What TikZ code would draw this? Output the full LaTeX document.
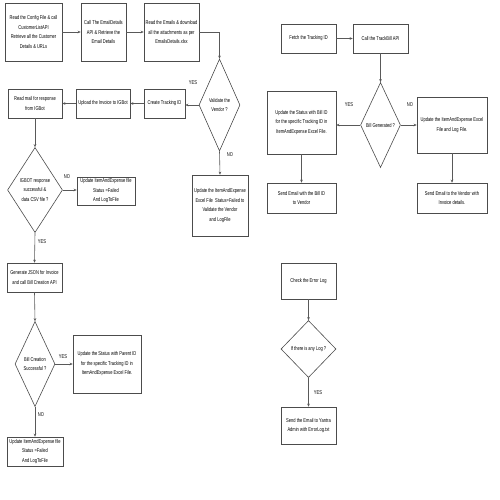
\documentclass[tikz,border=0pt]{standalone}
\usepackage{fontspec}
\setmainfont{Liberation Sans}[FakeStretch=0.72]
\usetikzlibrary{shapes.geometric,arrows.meta}
\tikzset{
  box/.style={draw=black!70, line width=0.6pt, inner sep=1pt, align=center, font=\fontsize{5.6}{9.5}\selectfont},
  dia/.style={diamond, draw=black!70, line width=0.6pt, inner sep=0pt, align=center, font=\fontsize{5.6}{9.5}\selectfont},
  lbl/.style={inner sep=0pt, font=\fontsize{5.6}{9.5}\selectfont},
  arr/.style={-{Stealth[length=3pt,width=2.6pt]}, draw=black!65, line width=0.6pt}
}
\begin{document}
\begin{tikzpicture}[x=1pt,y=-1pt]
\useasboundingbox[fill=white] (0,0) rectangle (500,500);
% left flow
\node[box, minimum width=57, minimum height=58] (a) at (33.5,32) {Read the Config File \& call\\CustomerListAPI\\Retrieve all the Customer\\Details \& URLs};
\node[box, minimum width=45, minimum height=58] (b) at (103.5,32) {Call The EmailDetails\\API \& Retrieve the\\Email Details};
\node[box, minimum width=55, minimum height=58] (c) at (171.5,32) {Read the Emails \& download\\all the attachments as per\\EmailsDetails.xlsx};
\node[dia, minimum width=41, minimum height=92] (dv) at (219.5,105) {Validate the\\Vendor ?};
\node[box, minimum width=41, minimum height=29] (create) at (164.5,103.5) {Create Tracking ID};
\node[box, minimum width=54, minimum height=29] (upload) at (103,103.5) {Upload the Invoice to IGBot};
\node[box, minimum width=54, minimum height=29] (readm) at (35,103.5) {Read mail for response\\from IGBot};
\node[box, minimum width=56, minimum height=61] (vfail) at (220,205.5) {Update the ItemAndExpense\\Excel File\ \ Status=Failed to\\Validate the Vendor\\and LogFile};
\node[dia, minimum width=55, minimum height=85] (d2) at (35,190) {IGBOT response\\successful \&\\data CSV file ?};
\node[box, minimum width=58, minimum height=28] (igfail) at (106,191) {Update ItemAndExpense file\\Status =Failed\\And LogToFile};
\node[box, minimum width=55, minimum height=29] (gen) at (34.5,277.5) {Generate JSON for Invoice\\and call Bill Creation API};
\node[dia, minimum width=40, minimum height=85] (d3) at (35,364) {Bill Creation\\Successful ?};
\node[box, minimum width=68, minimum height=58] (parent) at (107,364) {Update the Status with Parent ID\\for the specific Tracking ID in\\ItemAndExpense Excel File.};
\node[box, minimum width=56, minimum height=29] (bfail) at (35,451.5) {Update ItemAndExpense file\\Status =Failed\\And LogToFile};
% right flow
\node[box, minimum width=55, minimum height=29] (fetch) at (308.5,38.5) {Fetch the Tracking ID};
\node[box, minimum width=55, minimum height=29] (call) at (380.5,38.5) {Call the TrackBill API};
\node[dia, minimum width=40, minimum height=85] (d4) at (380.5,125) {Bill Generated ?};
\node[box, minimum width=69, minimum height=63] (billid) at (301.5,122.5) {Update the Status with Bill ID\\for the specific Tracking ID in\\ItemAndExpense Excel File.};
\node[box, minimum width=70, minimum height=56] (logf) at (452,125) {Update the ItemAndExpense Excel\\File and Log File.};
\node[box, minimum width=69, minimum height=30] (sendbill) at (301.5,198) {Send Email with the Bill ID\\to Vendor};
\node[box, minimum width=70, minimum height=30] (sendvendor) at (452,198) {Send Email to the Vendor with\\Invoice details.};
\node[box, minimum width=55, minimum height=36] (check) at (308.5,281) {Check the Error Log};
\node[dia, minimum width=55, minimum height=57] (d5) at (308.5,349) {If there is any Log ?};
\node[box, minimum width=55, minimum height=37] (admin) at (308.5,425.5) {Send the Email to Yantra\\Admin with ErrorLog.txt};
% labels
\node[lbl] (l1) at (193,83) {YES};
\node[lbl] (l2) at (230,155) {NO};
\node[lbl] (l3) at (67,177) {NO};
\node[lbl] (l4) at (42,242) {YES};
\node[lbl] (l5) at (63,357) {YES};
\node[lbl] (l6) at (41,415) {NO};
\node[lbl] (l7) at (349,105) {YES};
\node[lbl] (l8) at (410,105) {NO};
\node[lbl] (l9) at (318,393) {YES};
% connectors
\draw[arr] (a.east) -- (b.west);
\draw[arr] (b.east) -- (c.west);
\draw[arr] (c.east) -| (dv.north);
\draw[arr] (dv.west) -- (dv.west -| create.east);
\draw[arr] (create.west) -- (upload.east);
\draw[arr] (upload.west) -- (readm.east);
\draw[arr] (readm.south) -- (d2.north);
\draw[arr] (dv.south) -- (vfail.north);
\draw[arr] (d2.east) -- (d2.east -| igfail.west);
\draw[arr] (d2.south) -- (gen.north);
\draw[arr] (gen.south) -- (d3.north);
\draw[arr] (d3.east) -- (d3.east -| parent.west);
\draw[arr] (d3.south) -- (bfail.north);
\draw[arr] (fetch.east) -- (call.west);
\draw[arr] (call.south) -- (d4.north);
\draw[arr] (d4.west) -- (d4.west -| billid.east);
\draw[arr] (d4.east) -- (d4.east -| logf.west);
\draw[arr] (billid.south) -- (sendbill.north);
\draw[arr] (logf.south) -- (sendvendor.north);
\draw[arr] (check.south) -- (d5.north);
\draw[arr] (d5.south) -- (admin.north);
\end{tikzpicture}
\end{document}
